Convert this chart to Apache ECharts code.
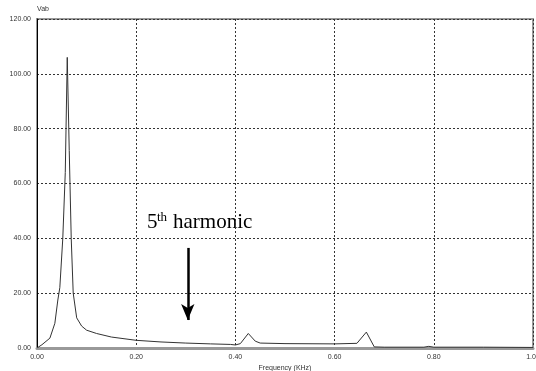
<!DOCTYPE html>
<html>
<head>
<meta charset="utf-8">
<script src="https://cdn.jsdelivr.net/npm/echarts@6/dist/echarts.min.js"></script>
<style>
  html, body { margin: 0; padding: 0; background: #fff; }
  #chart { width: 536px; height: 371px; }
</style>
</head>
<body>
<div id="chart"></div>
<script>
// spectrum of Vab
const freq = [0, 0.01, 0.026, 0.036, 0.042, 0.046, 0.052, 0.057, 0.061, 0.065, 0.069, 0.073, 0.08, 0.09, 0.1, 0.12, 0.15, 0.2, 0.25, 0.3, 0.35, 0.39, 0.4, 0.41, 0.426, 0.44, 0.45, 0.5, 0.6, 0.645, 0.664, 0.68, 0.7, 0.78, 0.79, 0.8, 0.9, 1.0];
const vab  = [0, 1.2, 3.6, 9, 17.5, 22, 40, 64, 106, 72, 40, 20, 11, 8, 6.5, 5.3, 4, 2.8, 2.2, 1.8, 1.5, 1.3, 1.1, 1.6, 5.3, 2.5, 1.8, 1.6, 1.5, 1.7, 5.8, 0.4, 0.3, 0.3, 0.6, 0.3, 0.3, 0.2];

const xTicks = { min: 0, max: 1, step: 0.2 };
const yTicks = { min: 0, max: 120, step: 20 };

// arrow pointing at the 5th harmonic region
const arrowFrom = [0.304, 36.5];
const arrowTo = [0.304, 10.2];

const chart = echarts.init(document.getElementById('chart'), null, { renderer: 'canvas' });

const labelFont = { color: '#333', fontSize: 7, fontFamily: 'Liberation Sans, Arial, sans-serif' };

chart.setOption({
    backgroundColor: '#fff',
    animation: false,
    grid: {
        left: 37, right: 3, top: 19, bottom: 23,
        outerBoundsMode: 'none',
        containLabel: false,
        show: true, borderColor: '#999', borderWidth: 2
    },
    xAxis: {
        type: 'value',
        min: xTicks.min, max: xTicks.max, interval: xTicks.step,
        name: 'Frequency (KHz)',
        nameLocation: 'middle',
        nameGap: 17,
        nameMoveOverlap: false,
        nameTextStyle: labelFont,
        axisLine: { show: true, onZero: false, lineStyle: { color: '#999', width: 3 } },
        axisTick: { show: false },
        axisLabel: Object.assign({ margin: 6, formatter: v => v.toFixed(2) }, labelFont),
        splitLine: { show: true, lineStyle: { color: '#333', type: [2, 2], width: 1 } }
    },
    yAxis: {
        type: 'value',
        min: yTicks.min, max: yTicks.max, interval: yTicks.step,
        name: 'Vab',
        nameLocation: 'end',
        nameGap: 6,
        nameTextStyle: Object.assign({ align: 'left' }, labelFont),
        axisLine: { show: true, lineStyle: { color: '#000', width: 1 } },
        axisTick: { show: false },
        axisLabel: Object.assign({ margin: 6, formatter: v => v.toFixed(2) }, labelFont),
        splitLine: { show: true, lineStyle: { color: '#333', type: [2, 2], width: 1 } }
    },
    series: [{
        type: 'line',
        data: freq.map((f, i) => [f, vab[i]]),
        showSymbol: false,
        lineStyle: { color: '#333', width: 1 },
        z: 3,
        markLine: {
            silent: true,
            symbol: ['none', 'arrow'],
            symbolSize: [10, 16],
            label: { show: false },
            lineStyle: { color: '#000', width: 2.5, type: 'solid' },
            data: [[{ coord: arrowFrom }, { coord: arrowTo }]]
        }
    }],
    graphic: [
        { type: 'text', left: 147, top: 212, style: { text: '5', font: '21px "Liberation Serif", "Times New Roman", serif', fill: '#000' } },
        { type: 'text', left: 157, top: 211, style: { text: 'th', font: '13px "Liberation Serif", "Times New Roman", serif', fill: '#000' } },
        { type: 'text', left: 173, top: 212, style: { text: 'harmonic', font: '21px "Liberation Serif", "Times New Roman", serif', fill: '#000' } }
    ]
});
</script>
</body>
</html>
